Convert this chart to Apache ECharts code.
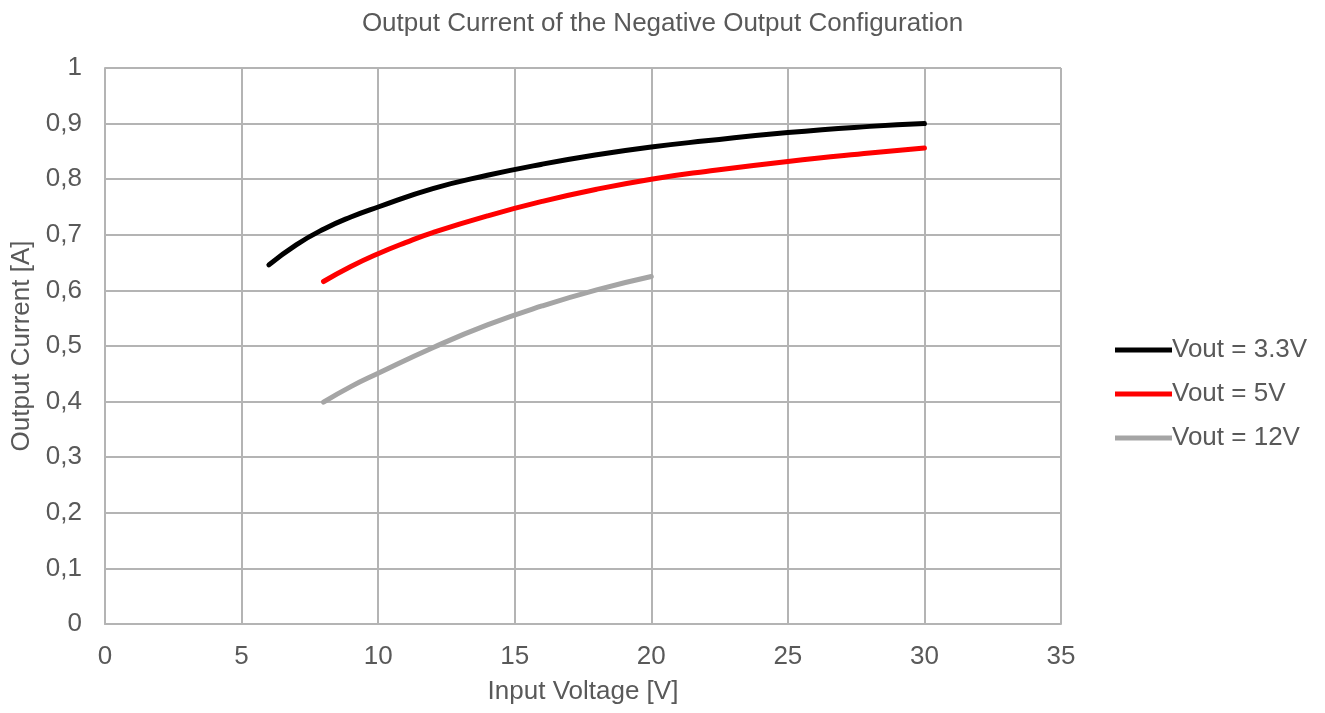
<!DOCTYPE html>
<html>
<head>
<meta charset="utf-8">
<script src="https://cdn.jsdelivr.net/npm/echarts@6/dist/echarts.min.js"></script>
<style>
  html, body { margin: 0; padding: 0; background: #fff; }
  #chart { width: 1325px; height: 713px; }
</style>
</head>
<body>
<div id="chart"></div>
<script>
// values
var vin33 = [6, 7, 8, 9, 10, 12, 14, 16, 18, 20, 22, 25, 28, 30];
var iout33 = [0.646, 0.682, 0.710, 0.732, 0.750, 0.783, 0.807, 0.827, 0.844, 0.858, 0.869, 0.884, 0.895, 0.900];

var vin5 = [8, 9, 10, 11, 12, 14, 16, 18, 20, 22, 25, 28, 30];
var iout5 = [0.616, 0.643, 0.666, 0.686, 0.704, 0.734, 0.760, 0.782, 0.800, 0.814, 0.832, 0.847, 0.856];

var vin12 = [8, 9, 10, 12, 14, 16, 18, 20];
var iout12 = [0.399, 0.427, 0.451, 0.497, 0.538, 0.572, 0.601, 0.625];

var seriesNames = ['Vout = 3.3V', 'Vout = 5V', 'Vout = 12V'];
var seriesColors = ['#000000', '#ff0000', '#a5a5a5'];

function pairs(xs, ys) {
    return xs.map(function (x, i) { return [x, ys[i]]; });
}

var textColor = '#595959';
var font = 'Liberation Sans';
var fontSize = 26;
var gridColor = '#b4b4b4';

var chart = echarts.init(document.getElementById('chart'));

var dataSets = [pairs(vin33, iout33), pairs(vin5, iout5), pairs(vin12, iout12)];

chart.setOption({
    animation: false,
    textStyle: { fontFamily: font },
    title: {
        text: 'Output Current of the Negative Output Configuration',
        left: 'center',
        top: 6,
        textStyle: { color: textColor, fontSize: fontSize, fontWeight: 'normal', fontFamily: font }
    },
    legend: {
        orient: 'vertical',
        left: 1110,
        top: 332,
        icon: 'rect',
        itemWidth: 57,
        itemHeight: 5,
        itemGap: 18,
        textStyle: { color: textColor, fontSize: fontSize, fontFamily: font, padding: [0, 0, 0, -5] },
        data: seriesNames
    },
    grid: { left: 105, right: 264, top: 68, bottom: 89, containLabel: false },
    xAxis: {
        type: 'value',
        min: 0, max: 35, interval: 5,
        name: 'Input Voltage [V]',
        nameLocation: 'middle',
        nameGap: 55,
        nameTextStyle: { color: textColor, fontSize: fontSize, fontFamily: font },
        axisLine: { show: true, lineStyle: { color: gridColor, width: 2 } },
        axisTick: { show: false },
        axisLabel: { color: textColor, fontSize: fontSize, fontFamily: font, margin: 20 },
        splitLine: { show: true, lineStyle: { color: gridColor, width: 2 } }
    },
    yAxis: {
        type: 'value',
        min: 0, max: 1, interval: 0.1,
        name: 'Output Current [A]',
        nameLocation: 'middle',
        nameGap: 70,
        nameTextStyle: { color: textColor, fontSize: fontSize, fontFamily: font },
        axisLine: { show: true, lineStyle: { color: gridColor, width: 2 } },
        axisTick: { show: false },
        axisLabel: {
            color: textColor, fontSize: fontSize, fontFamily: font, margin: 23,
            formatter: function (v) { return String(Math.round(v * 10) / 10).replace('.', ','); }
        },
        splitLine: { show: true, lineStyle: { color: gridColor, width: 2 } }
    },
    series: seriesNames.map(function (name, i) {
        return {
            name: name,
            type: 'line',
            smooth: true,
            symbol: 'none',
            data: dataSets[i],
            color: seriesColors[i],
            lineStyle: { color: seriesColors[i], width: 5, cap: 'round' }
        };
    })
});
</script>
</body>
</html>
